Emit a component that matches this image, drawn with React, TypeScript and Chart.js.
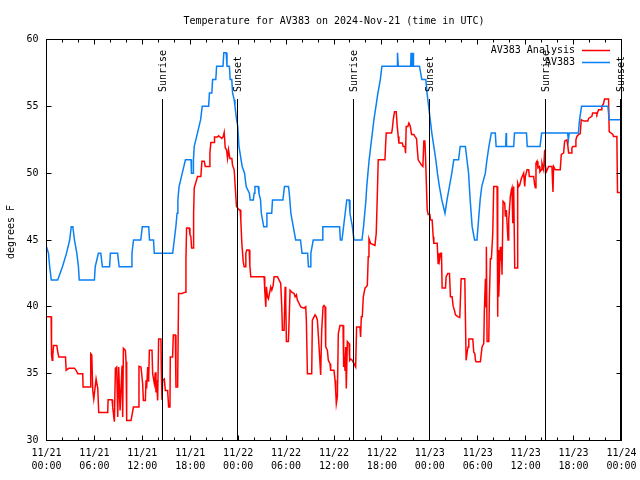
import React, { useEffect, useRef } from 'react';
import { Chart, registerables } from 'chart.js';

Chart.register(...registerables);

const FONT = '"DejaVu Sans Mono", "Liberation Mono", monospace';

// Hours since 2024-11-21 00:00 UTC
const redHours = [
  0, 0.58, 0.63, 0.71, 0.79, 0.88, 1.29, 1.42, 1.54, 2.38, 2.46, 2.79, 3.5, 3.71, 3.92, 4.54, 4.58, 5.46, 5.54, 5.67,
  5.79, 5.92, 6.21, 6.42, 6.54, 7.67, 7.71, 8.21, 8.29, 8.5, 8.63, 8.79, 8.92, 9.04, 9.21, 9.46, 9.54, 9.63, 9.88, 9.96,
  10.04, 10.58, 10.71, 10.88, 11.54, 11.58, 11.83, 12.04, 12.13, 12.38, 12.46, 12.54, 12.67, 12.79, 12.88, 13.21, 13.29,
  13.5, 13.63, 13.71, 13.79, 13.92, 14.04, 14.33, 14.38, 14.46, 14.54, 14.75, 14.88, 15.17, 15.29, 15.46, 15.5, 15.79,
  15.88, 16.13, 16.21, 16.42, 16.54, 16.96, 17.38, 17.46, 17.54, 17.88, 17.96, 18.08, 18.17, 18.38, 18.42, 18.5, 18.92,
  19.33, 19.46, 19.75, 19.88, 20.38, 20.46, 20.58, 21.0, 21.04, 21.42, 21.54, 21.96, 22.13, 22.25, 22.38, 22.54, 22.67,
  22.79, 22.96, 23.21, 23.29, 23.5, 23.63, 23.79, 24.13, 24.25, 24.33, 24.46, 24.63, 24.75, 24.88, 24.96, 25.08, 25.38,
  25.46, 25.58, 27.25, 27.33, 27.46, 27.54, 27.67, 27.79, 28.08, 28.21, 28.38, 28.5, 28.92, 29.13, 29.33, 29.46, 29.54,
  29.75, 29.88, 29.96, 30.04, 30.29, 30.38, 30.5, 30.71, 31.0, 31.13, 31.29, 31.42, 31.63, 31.83, 32.25, 32.46, 32.54,
  32.67, 33.21, 33.29, 33.5, 33.63, 33.79, 33.92, 34.13, 34.33, 34.46, 34.63, 34.75, 34.88, 34.96, 35.17, 35.29, 35.5,
  35.58, 36.0, 36.13, 36.21, 36.29, 36.42, 36.54, 36.75, 37.13, 37.17, 37.25, 37.38, 37.46, 37.54, 37.67, 37.88, 37.96,
  38.08, 38.29, 38.5, 38.71, 38.83, 39.25, 39.33, 39.42, 39.54, 39.67, 39.88, 40.04, 40.17, 40.29, 40.38, 40.58, 41.13,
  41.29, 41.42, 41.54, 42.38, 42.46, 42.54, 43.21, 43.29, 43.42, 43.58, 43.79, 43.92, 44.04, 44.13, 44.54, 44.67, 44.88,
  44.96, 45.04, 45.25, 45.38, 45.5, 45.58, 45.71, 46.0, 46.13, 46.33, 46.42, 46.54, 46.96, 47.13, 47.25, 47.38, 47.46,
  47.67, 47.79, 48.0, 48.08, 48.29, 48.42, 48.5, 48.92, 49.04, 49.13, 49.21, 49.33, 49.46, 49.54, 49.96, 50.04, 50.25,
  50.46, 50.58, 50.79, 50.92, 51.08, 51.21, 51.54, 51.75, 51.92, 52.38, 52.46, 52.54, 52.67, 52.79, 52.88, 53.38, 53.5,
  53.63, 53.71, 53.79, 54.33, 54.54, 54.75, 54.83, 54.96, 55.04, 55.08, 55.17, 55.38, 55.46, 55.58, 55.71, 55.88, 56.0,
  56.42, 56.5, 56.54, 56.63, 56.83, 56.92, 56.96, 57.04, 57.17, 57.38, 57.46, 57.58, 57.67, 57.79, 57.88, 58.08, 58.21,
  58.29, 58.38, 58.5, 58.63, 58.92, 59.0, 59.13, 59.25, 59.46, 59.75, 59.88, 59.96, 60.17, 60.38, 60.46, 61.0, 61.13,
  61.21, 61.29, 61.42, 61.54, 61.71, 61.79, 61.96, 62.04, 62.25, 62.38, 62.46, 62.58, 62.88, 63.29, 63.42, 63.5, 63.71,
  64.33, 64.46, 64.75, 64.88, 65.17, 65.29, 65.38, 65.71, 65.79, 65.92, 66.21, 66.29, 66.42, 66.63, 66.83, 66.96, 67.25,
  67.79, 67.88, 68.29, 68.38, 68.83, 68.92, 69.13, 69.46, 69.54, 69.75, 69.88, 70.38, 70.46, 70.92, 71.0, 71.42, 71.5,
  72,
];
const redTemps = [
  39.25, 39.25, 36.4, 36, 36.4, 37.1, 37.1, 36.6, 36.25, 36.25, 35.25, 35.4, 35.4, 35.25, 35, 35, 34, 34, 36.5, 36.4,
  33.75, 33.1, 34.6, 33.9, 32.1, 32.1, 33.05, 33.05, 32.5, 31.4, 35.4, 35.5, 31.75, 35.5, 32.25, 35.6, 31.75, 36.9, 36.75, 35.9,
  31.5, 31.5, 31.9, 32.5, 32.5, 35.55, 35.5, 34.25, 33, 33, 34.5, 33.9, 35.5, 34.4, 36.75, 36.75, 35,
  34.25, 35.1, 33.6, 34.5, 33, 37.6, 37.6, 35.4, 33.05, 34.5, 34.6, 33.75, 33.75, 32.5, 32.5, 36.25, 36.25,
  37.9, 37.9, 34, 34, 41, 41, 41.1, 43.5, 45.9, 45.9, 45.4, 45.25, 44.4, 44.4, 47, 48.9, 49.75,
  49.75, 50.9, 50.9, 50.5, 50.5, 51.5, 52.3, 52.3, 52.7, 52.7, 52.8, 52.6, 52.75, 53.05, 51.9, 51.75, 51.1,
  51.75, 51.1, 51.1, 50.6, 50.25, 49, 47.5, 47.25, 47.25, 46.5, 44.75, 43.4, 43, 43, 44, 44.25, 44.25,
  43.1, 42.25, 42.25, 41.25, 40, 41.5, 40.75, 40.6, 41.5, 41.25, 41.6, 42.25, 42.25, 42, 41.75, 40, 38.25,
  38.25, 41.5, 40.25, 37.4, 37.4, 39, 41.25, 41.1, 41, 40.75, 40.9, 40.5, 40.25, 40, 39.9, 40, 39,
  35, 35, 39, 39.25, 39.4, 39.25, 39, 37, 34.9, 38.25, 40, 40.1, 40, 37, 36.75, 36, 35.75,
  35.25, 35.25, 34.5, 33.75, 32.75, 33.25, 38, 38.6, 38.6, 35.5, 36.75, 35.25, 37, 33.9, 37.4, 37.25, 36,
  36.1, 36, 35.75, 35.5, 38.5, 38.5, 37.75, 39.25, 39.25, 40.75, 41.4, 41.5, 41.6, 43.75, 45.1, 44.75, 44.6,
  45.5, 48.25, 51, 51, 52.1, 53, 53, 53.25, 54, 54.6, 54.6, 53.5, 52.75, 52.25, 52.25, 52, 52,
  51.5, 53.5, 53.5, 53.75, 53.6, 53.4, 52.9, 52.9, 52.75, 52.6, 51.9, 51, 50.6, 50.5, 52.4, 52.4, 51.25,
  47.25, 46.9, 46.9, 46.5, 46.5, 45.25, 44.75, 44.75, 43.25, 44, 43.5, 44, 44, 41.4, 41.4, 42.25, 42.5,
  42.5, 40.75, 40.75, 40.05, 39.75, 39.4, 39.25, 39.2, 42.1, 42.1, 39, 36, 36.6, 37, 37.6, 37.6, 36.6,
  36.5, 36, 35.9, 35.9, 37, 37.25, 39.75, 42.1, 40, 44.5, 37.4, 37.4, 40.75, 43.6, 43.6, 45.5, 49,
  49, 39.25, 44.25, 40.75, 44.5, 43.5, 44.5, 42.4, 47.9, 47.75, 46.75, 47.25, 46.25, 45, 46.5, 48.25, 48.75,
  48.9, 46.25, 49, 42.9, 42.9, 49.25, 49, 49.1, 49.6, 50, 49, 49.75, 50.25, 50.25, 49.75, 49.75, 49.1,
  48.9, 50.75, 50.9, 50.4, 50.5, 50.1, 50.25, 50.75, 50.25, 51.75, 50.6, 50.1, 50.5, 50.5, 48.6, 50.5, 50.25,
  50.25, 51.4, 51.5, 52.4, 52.5, 52, 51.5, 51.5, 51.9, 52, 52, 52.5, 52.75, 52.9, 52.95, 54, 53.9,
  53.9, 54.1, 54.25, 54.5, 54.5, 54.4, 54.75, 54.75, 55, 55.2, 55.55, 55.55, 53.1, 52.9, 52.75, 52.75, 48.55,
  48.55,
];

const blueHours = [
  0, 0.25, 0.4, 0.6, 1.4, 2.0, 2.5, 2.9, 3.1, 3.3, 3.5, 3.8, 4.0, 4.1, 6.0, 6.1, 6.5, 6.8, 7.0, 7.9, 8.0, 8.9, 9.1,
  10.6, 10.7, 10.9, 11.8, 12.0, 12.8, 12.9, 13.4, 13.5, 15.8, 16.0, 16.2, 16.35, 16.45, 16.6, 17.0, 17.4, 18.1, 18.15,
  18.35, 18.4, 18.5, 18.9, 19.3, 19.5, 20.3, 20.4, 20.7, 20.8, 21.2, 21.3, 22.1, 22.2, 22.5, 22.6, 22.9, 23.0, 23.2,
  23.3, 23.5, 23.6, 23.8, 23.95, 24.1, 24.5, 24.8, 25.0, 25.4, 25.5, 25.9, 26.0, 26.1, 26.5, 26.6, 26.8, 26.9, 27.2,
  27.5, 27.6, 28.2, 28.3, 29.6, 29.8, 30.3, 30.4, 30.6, 30.9, 31.2, 31.8, 32.0, 32.7, 32.8, 33.0, 33.1, 33.4, 34.5,
  34.6, 36.7, 36.8, 37.0, 37.2, 37.4, 37.6, 37.9, 38.0, 38.3, 38.5, 39.5, 39.7, 39.85, 40.0, 40.1, 40.25, 40.4, 40.6,
  40.8, 41.0, 41.25, 41.5, 41.8, 42.0, 43.9, 43.95, 44.05, 45.6, 45.65, 45.7, 45.85, 45.9, 45.95, 46.7, 47.0, 47.5,
  47.65, 47.85, 48.05, 48.25, 48.5, 48.75, 48.95, 49.2, 49.5, 49.9, 50.0, 50.15, 50.45, 50.75, 51.0, 51.6, 51.8, 52.45,
  52.65, 52.85, 53.05, 53.3, 53.6, 53.9, 54.1, 54.3, 54.5, 54.95, 55.15, 55.4, 55.7, 56.2, 56.3, 57.5, 57.55, 57.6,
  58.5, 58.6, 60.1, 60.2, 61.8, 62.0, 65.25, 65.35, 65.45, 66.6, 66.75, 67.0, 70.3, 70.45, 72,
];
const blueTemps = [
  44.5, 44, 43, 42, 42, 43, 44, 45, 46, 46, 45, 44, 43, 42, 42, 43, 44, 44, 43, 43, 44, 44, 43,
  43, 44, 45, 45, 46, 46, 45, 45, 44, 44, 45, 46, 47, 48, 49, 50, 51, 51, 50,
  50, 51, 52, 53, 54, 55, 55, 56, 56, 57, 57, 58, 58, 59, 59, 58, 58, 57, 57,
  56, 55.5, 55, 54, 53.5, 52, 50.5, 50, 49, 48.5, 48, 48, 48.5, 49, 49, 48.5, 48, 47, 46,
  46, 47, 47, 48, 48, 49, 49, 48.5, 47, 46, 45, 45, 44, 44, 43, 43, 44, 45, 45,
  46, 46, 45, 45, 46, 47, 48, 48, 47, 46, 45, 45, 46, 47, 48, 49, 50, 51, 52,
  53, 54, 55, 56, 57, 58, 58, 59, 58, 58, 59, 58, 58, 59, 58, 58, 57, 57,
  56, 55, 54, 53, 52, 51, 50, 49, 48, 47, 47, 48, 49, 50, 51, 51, 52, 52,
  51, 50, 48, 46, 45, 45, 46.5, 48, 49, 50, 51, 52, 53, 53, 52, 52, 53, 52,
  52, 53, 53, 52, 52, 53, 53, 52.5, 53, 53, 54, 55, 55, 54, 54,
];

const seriesNames = ['AV383 Analysis', 'AV383'];
const seriesColors = ['#ff0000', '#0a80f5'];

const dayLabels = ['11/21', '11/22', '11/23', '11/24'];
const timeLabels = ['00:00', '06:00', '12:00', '18:00'];

const sunHours = [14.5, 23.92, 38.42, 47.92, 62.45, 71.9];
const sunLabels = ['Sunrise', 'Sunset', 'Sunrise', 'Sunset', 'Sunrise', 'Sunset'];

const titleText = 'Temperature for AV383 on 2024-Nov-21 (time in UTC)';
const yTitle = 'degrees F';

const toPoints = (hs: number[], vs: number[]) => hs.map((h, i) => ({ x: h, y: vs[i] }));

const snap = (v: number) => Math.floor(v) + 0.5;

const decorPlugin = {
  id: 'decor',
  afterDatasetsDraw(chart: any) {
    const { ctx, chartArea: a, scales } = chart;
    const xs = scales.x;
    const ys = scales.y;
    ctx.save();
    ctx.strokeStyle = '#000';
    ctx.fillStyle = '#000';
    ctx.lineWidth = 1;

    // sunrise / sunset markers
    ctx.font = `10px ${FONT}`;
    sunHours.forEach((h, i) => {
      const px = snap(xs.getPixelForValue(h));
      ctx.beginPath();
      ctx.moveTo(px, 99);
      ctx.lineTo(px, a.bottom);
      ctx.stroke();
      ctx.save();
      ctx.translate(px + 0.5, 92);
      ctx.rotate(-Math.PI / 2);
      ctx.textAlign = 'left';
      ctx.textBaseline = 'middle';
      ctx.fillText(sunLabels[i], 0, 0);
      ctx.restore();
    });

    // border
    ctx.strokeRect(a.left, a.top, a.right - a.left, a.bottom - a.top);

    // ticks
    ctx.beginPath();
    for (let h = 0; h <= 72; h += 2) {
      const px = snap(xs.getPixelForValue(h));
      const len = h % 6 === 0 ? 5 : 3;
      ctx.moveTo(px, a.bottom);
      ctx.lineTo(px, a.bottom - len);
      ctx.moveTo(px, a.top);
      ctx.lineTo(px, a.top + len);
    }
    for (let t = 30; t <= 60; t += 5) {
      const py = snap(ys.getPixelForValue(t));
      ctx.moveTo(a.left, py);
      ctx.lineTo(a.left + 5, py);
      ctx.moveTo(a.right, py);
      ctx.lineTo(a.right - 5, py);
    }
    ctx.stroke();

    // legend
    ctx.font = `10px ${FONT}`;
    ctx.textAlign = 'right';
    ctx.textBaseline = 'middle';
    seriesNames.forEach((name, i) => {
      const y = 50 + i * 12;
      ctx.fillStyle = '#000';
      ctx.fillText(name, 575, y);
      ctx.strokeStyle = seriesColors[i];
      ctx.lineWidth = 1.5;
      ctx.beginPath();
      ctx.moveTo(582, y + 0.5);
      ctx.lineTo(610, y + 0.5);
      ctx.stroke();
    });

    // title
    ctx.fillStyle = '#000';
    ctx.textAlign = 'center';
    ctx.textBaseline = 'middle';
    ctx.fillText(titleText, (a.left + a.right) / 2, 21);

    // y axis title
    ctx.save();
    ctx.translate(11, 232);
    ctx.rotate(-Math.PI / 2);
    ctx.fillText(yTitle, 0, 0);
    ctx.restore();

    ctx.restore();
  },
};

export default function App() {
  const canvasRef = useRef<HTMLCanvasElement | null>(null);

  useEffect(() => {
    const canvas = canvasRef.current;
    if (!canvas) return;
    const chart = new Chart(canvas, {
      type: 'line',
      data: {
        datasets: [
          {
            label: seriesNames[0],
            data: toPoints(redHours, redTemps),
            borderColor: seriesColors[0],
            backgroundColor: seriesColors[0],
            borderWidth: 1.5,
            pointRadius: 0,
            tension: 0,
            fill: false,
            order: 2,
          },
          {
            label: seriesNames[1],
            data: toPoints(blueHours, blueTemps),
            borderColor: seriesColors[1],
            backgroundColor: seriesColors[1],
            borderWidth: 1.5,
            pointRadius: 0,
            tension: 0,
            fill: false,
            order: 1,
          },
        ],
      },
      options: {
        responsive: false,
        animation: false,
        devicePixelRatio: 1,
        layout: { padding: { left: 0, right: 18.5, top: 39.5, bottom: 0 } },
        plugins: {
          legend: { display: false },
          title: { display: false },
          tooltip: { enabled: false },
        },
        events: [],
        scales: {
          x: {
            type: 'linear',
            min: 0,
            max: 72,
            grid: { display: false, drawTicks: false },
            border: { display: false },
            ticks: {
              stepSize: 6,
              autoSkip: false,
              maxRotation: 0,
              minRotation: 0,
              padding: 6,
              color: '#000',
              font: { family: FONT, size: 10, lineHeight: 1.35 },
              callback: (v: any) => {
                const h = Number(v);
                const d = Math.floor(h / 24);
                const t = Math.round((h % 24) / 6);
                return [dayLabels[d], timeLabels[t]];
              },
            },
            afterFit: (s: any) => {
              s.height = 39.5;
              s.paddingLeft = 0;
              s.paddingRight = 0;
            },
          },
          y: {
            type: 'linear',
            min: 30,
            max: 60,
            grid: { display: false, drawTicks: false },
            border: { display: false },
            ticks: {
              stepSize: 5,
              padding: 8,
              color: '#000',
              font: { family: FONT, size: 10 },
            },
            afterFit: (s: any) => {
              s.width = 46.5;
              s.paddingTop = 0;
              s.paddingBottom = 0;
            },
          },
        },
      },
      plugins: [decorPlugin],
    });
    return () => chart.destroy();
  }, []);

  return (
    <div style={{ position: 'absolute', left: 0, top: 0, width: 640, height: 480, background: '#fff' }}>
      <canvas ref={canvasRef} width={640} height={480} style={{ display: 'block' }} />
    </div>
  );
}
